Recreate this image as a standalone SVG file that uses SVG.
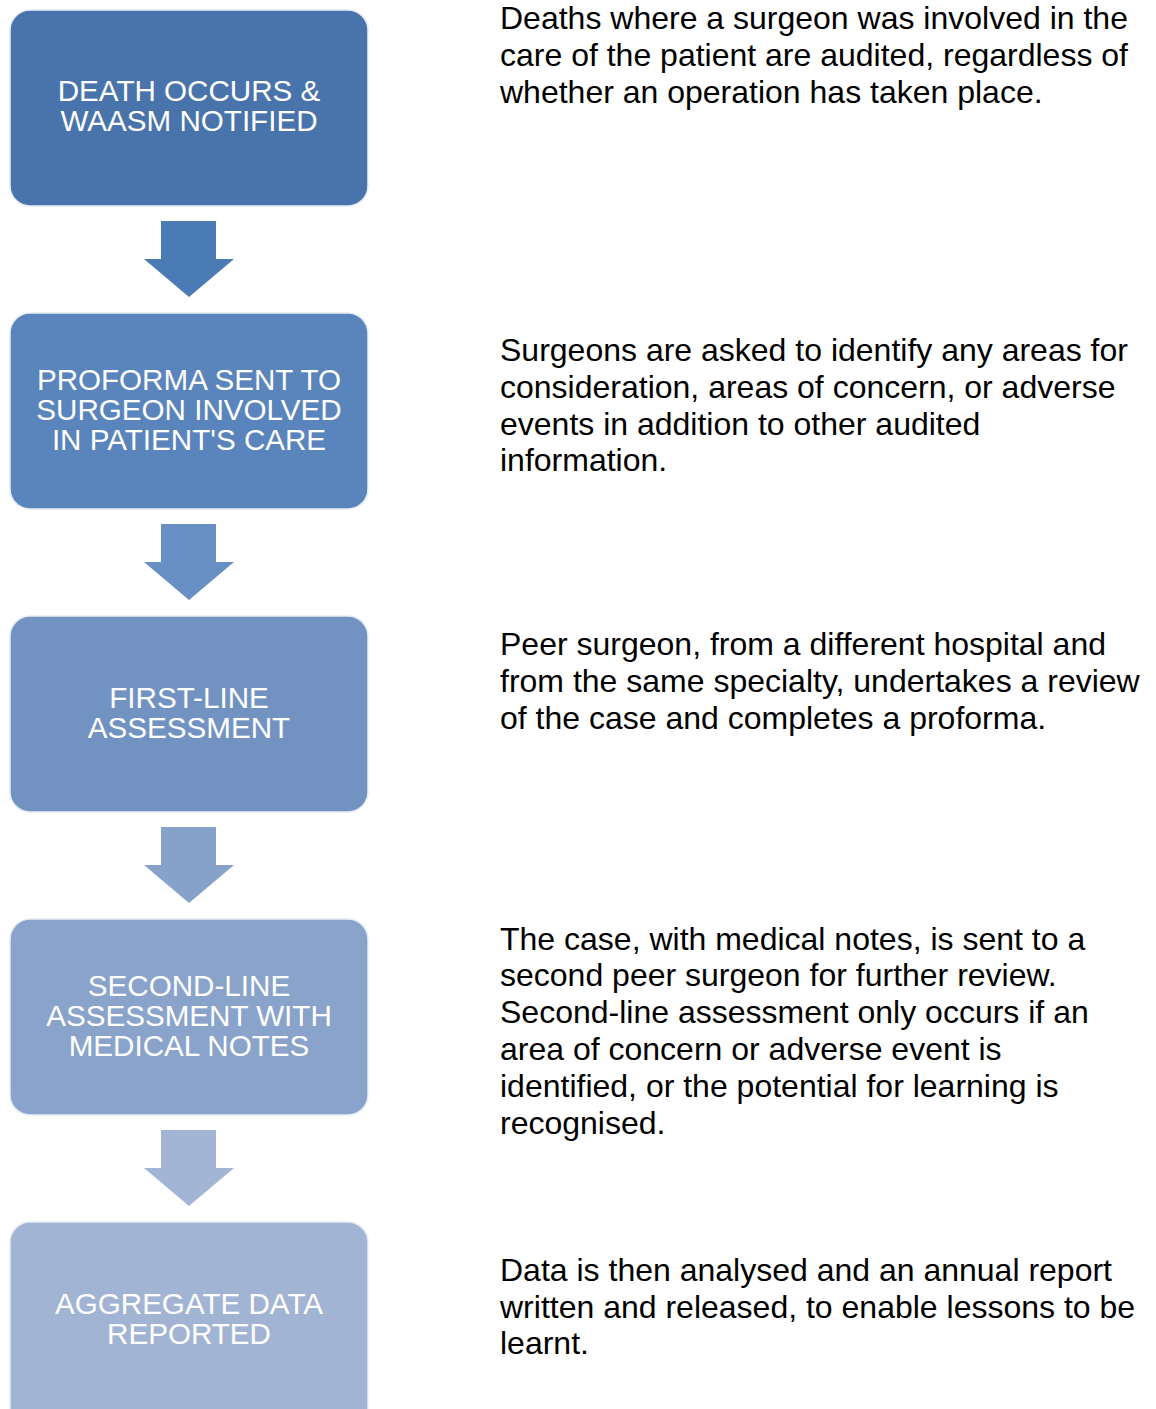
<svg xmlns="http://www.w3.org/2000/svg" width="1156" height="1409" viewBox="0 0 1156 1409">
  <style>
    .box { stroke: #e6ecf5; stroke-width: 1.5; }
    .label { font-family: "Liberation Sans", Arial, sans-serif; font-size: 29.6px; fill: #ffffff; text-anchor: middle; }
    .desc { font-family: "Liberation Sans", Arial, sans-serif; font-size: 32px; fill: #000000; }
  </style>
  <defs>
    <path id="down" d="M161,0 H216 V38 H234 L189,76 L144,38 H161 Z"/>
  </defs>
  <rect width="1156" height="1409" fill="#ffffff"/>

  <!-- connectors: block arrows between steps -->
  <g id="connectors">
    <use href="#down" y="221" fill="#4A7BB5"/>
    <use href="#down" y="524" fill="#678FC3"/>
    <use href="#down" y="827" fill="#86A2CB"/>
    <use href="#down" y="1130" fill="#A3B5D5"/>
  </g>

  <g id="step1">
    <rect class="box" x="10" y="10" width="358" height="196" rx="20" fill="#4874AB"/>
    <text class="label" x="189" y="101">DEATH OCCURS &amp;</text>
    <text class="label" x="189" y="131">WAASM NOTIFIED</text>
  </g>
  <g id="step2">
    <rect class="box" x="10" y="313" width="358" height="196" rx="20" fill="#5A84BC"/>
    <text class="label" x="189" y="390">PROFORMA SENT TO</text>
    <text class="label" x="189" y="420">SURGEON INVOLVED</text>
    <text class="label" x="189" y="450">IN PATIENT'S CARE</text>
  </g>
  <g id="step3">
    <rect class="box" x="10" y="616" width="358" height="196" rx="20" fill="#7293C2"/>
    <text class="label" x="189" y="708">FIRST-LINE</text>
    <text class="label" x="189" y="738">ASSESSMENT</text>
  </g>
  <g id="step4">
    <rect class="box" x="10" y="919" width="358" height="196" rx="20" fill="#89A3CB"/>
    <text class="label" x="189" y="996">SECOND-LINE</text>
    <text class="label" x="189" y="1026">ASSESSMENT WITH</text>
    <text class="label" x="189" y="1056">MEDICAL NOTES</text>
  </g>
  <g id="step5">
    <rect class="box" x="10" y="1222" width="358" height="210" rx="20" fill="#A2B4D4"/>
    <text class="label" x="189" y="1314">AGGREGATE DATA</text>
    <text class="label" x="189" y="1344">REPORTED</text>
  </g>

  <!-- descriptions beside each step -->
  <g id="desc1" class="desc">
    <text x="500" y="29">Deaths where a surgeon was involved in the</text>
    <text x="500" y="66">care of the patient are audited, regardless of</text>
    <text x="500" y="103">whether an operation has taken place.</text>
  </g>
  <g id="desc2" class="desc">
    <text x="500" y="361">Surgeons are asked to identify any areas for</text>
    <text x="500" y="398">consideration, areas of concern, or adverse</text>
    <text x="500" y="435">events in addition to other audited</text>
    <text x="500" y="471">information.</text>
  </g>
  <g id="desc3" class="desc">
    <text x="500" y="655">Peer surgeon, from a different hospital and</text>
    <text x="500" y="692">from the same specialty, undertakes a review</text>
    <text x="500" y="729">of the case and completes a proforma.</text>
  </g>
  <g id="desc4" class="desc">
    <text x="500" y="950">The case, with medical notes, is sent to a</text>
    <text x="500" y="986">second peer surgeon for further review.</text>
    <text x="500" y="1023">Second-line assessment only occurs if an</text>
    <text x="500" y="1060">area of concern or adverse event is</text>
    <text x="500" y="1097">identified, or the potential for learning is</text>
    <text x="500" y="1134">recognised.</text>
  </g>
  <g id="desc5" class="desc">
    <text x="500" y="1281">Data is then analysed and an annual report</text>
    <text x="500" y="1318">written and released, to enable lessons to be</text>
    <text x="500" y="1354">learnt.</text>
  </g>
</svg>
